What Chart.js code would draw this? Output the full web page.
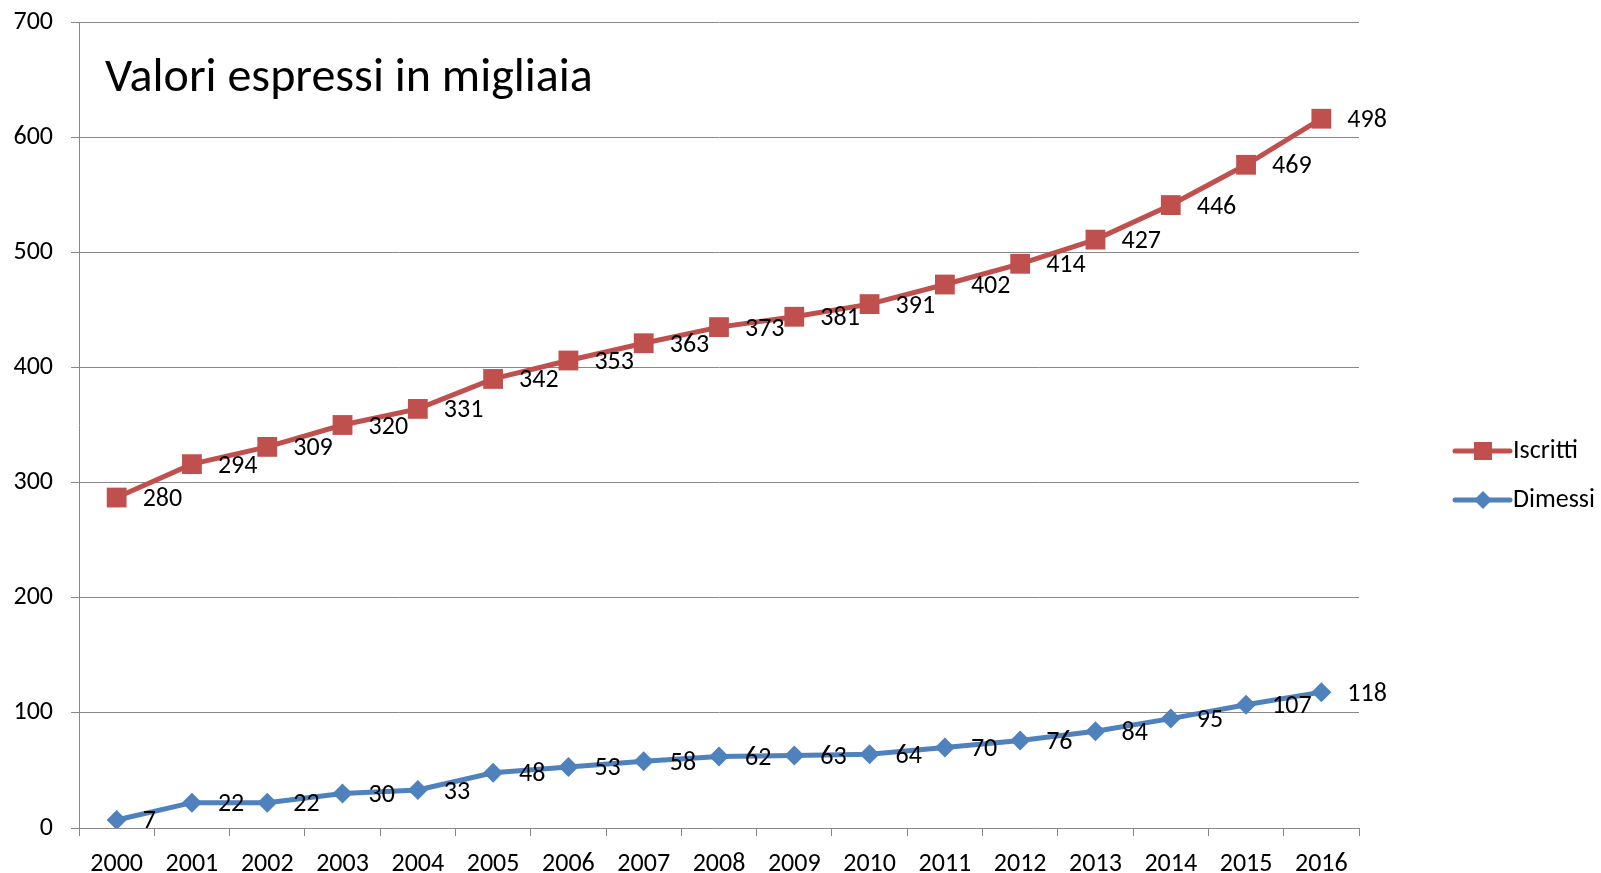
<!DOCTYPE html>
<html>
<head>
<meta charset="utf-8">
<script src="https://cdn.jsdelivr.net/npm/chart.js@4"></script>
<style>
    body { margin: 0; background: #fff; }
    #wrap { width: 1601px; height: 873px; }
</style>
</head>
<body>
<div id="wrap"><canvas id="chart" width="1601" height="873"></canvas></div>
<script>
let anni = ["2000", "2001", "2002", "2003", "2004", "2005", "2006", "2007", "2008",
    "2009", "2010", "2011", "2012", "2013", "2014", "2015", "2016"];
let iscritti = [280, 294, 309, 320, 331, 342, 353, 363, 373, 381, 391, 402, 414, 427, 446, 469, 498];
let dimessi = [7, 22, 22, 30, 33, 48, 53, 58, 62, 63, 64, 70, 76, 84, 95, 107, 118];
let yTicks = [0, 100, 200, 300, 400, 500, 600, 700];

let font = "Carlito, Lato, sans-serif";
let rosso = "#C0504D";
let blu = "#4F81BD";
let grigio = "#888888";

// etichette dei valori a destra dei punti
let etichette = {
    id: "etichette",
    afterDatasetsDraw(chart) {
        let ctx = chart.ctx;
        ctx.save();
        ctx.font = "26px " + font;
        ctx.fillStyle = "#000";
        ctx.textAlign = "left";
        ctx.textBaseline = "middle";
        chart.data.datasets.forEach(function(ds, i) {
            let meta = chart.getDatasetMeta(i);
            meta.data.forEach(function(pt, j) {
                ctx.fillText(ds.data[j], pt.x + 26, pt.y + 2);
            });
        });
        ctx.restore();
    }
};

// titolo dentro il grafico
let titolo = {
    id: "titolo",
    afterDraw(chart) {
        let ctx = chart.ctx;
        let a = chart.chartArea;
        ctx.save();
        ctx.font = "48px " + font;
        ctx.fillStyle = "#000";
        ctx.textBaseline = "alphabetic";
        ctx.fillText("Valori espressi in migliaia", a.left + 26, a.top + 69);
        ctx.restore();
    }
};

function marker(ctx, stile, x, y, colore) {
    ctx.fillStyle = colore;
    ctx.beginPath();
    if (stile === "rect") {
        ctx.rect(x - 9, y - 9, 18, 18);
    } else {
        ctx.moveTo(x, y - 9);
        ctx.lineTo(x + 9, y);
        ctx.lineTo(x, y + 9);
        ctx.lineTo(x - 9, y);
        ctx.closePath();
    }
    ctx.fill();
}

// legenda a destra
let legenda = {
    id: "legenda",
    afterDraw(chart) {
        let ctx = chart.ctx;
        let a = chart.chartArea;
        let voci = [chart.data.datasets[1], chart.data.datasets[0]];
        ctx.save();
        ctx.font = "26px " + font;
        ctx.textBaseline = "middle";
        voci.forEach(function(ds, i) {
            let x0 = a.right + 96;
            let y = a.top + 429 + i * 49;
            ctx.strokeStyle = ds.borderColor;
            ctx.lineWidth = 5;
            ctx.lineCap = "round";
            ctx.beginPath();
            ctx.moveTo(x0, y);
            ctx.lineTo(x0 + 55, y);
            ctx.stroke();
            marker(ctx, ds.pointStyle, x0 + 28, y, ds.backgroundColor);
            ctx.fillStyle = "#000";
            ctx.fillText(ds.label, x0 + 58, y);
        });
        ctx.restore();
    }
};

let ctx = document.getElementById("chart").getContext("2d");
let chart = new Chart(ctx, {
    type: "line",
    data: {
        labels: anni,
        datasets: [
            {
                label: "Dimessi",
                data: dimessi,
                borderColor: blu,
                backgroundColor: blu,
                borderWidth: 5,
                pointStyle: "rectRot",
                pointRadius: 10,
                pointBorderWidth: 0,
                fill: false,
                tension: 0
            },
            {
                label: "Iscritti",
                data: iscritti,
                borderColor: rosso,
                backgroundColor: rosso,
                borderWidth: 5,
                pointStyle: "rect",
                pointRadius: 14,
                pointBorderWidth: 0,
                fill: false,
                tension: 0
            }
        ]
    },
    options: {
        responsive: false,
        animation: false,
        layout: { padding: { top: 22, right: 242, left: 0, bottom: 0 } },
        plugins: {
            legend: { display: false },
            tooltip: { enabled: false }
        },
        scales: {
            x: {
                offset: true,
                grid: {
                    offset: true,
                    drawOnChartArea: false,
                    drawTicks: true,
                    tickLength: 8,
                    color: grigio
                },
                border: { color: grigio, width: 1 },
                ticks: {
                    color: "#000",
                    font: { size: 26, family: font },
                    padding: 13,
                    maxRotation: 0,
                    autoSkip: false
                },
                afterFit(scale) {
                    scale.height = 45;
                    scale.paddingLeft = 0;
                    scale.paddingRight = 0;
                }
            },
            y: {
                stacked: true,
                min: 0,
                max: 700,
                afterBuildTicks(scale) {
                    scale.ticks = yTicks.map(function(v) { return { value: v }; });
                },
                grid: {
                    color: grigio,
                    tickLength: 8
                },
                border: { color: grigio, width: 1 },
                ticks: {
                    color: "#000",
                    font: { size: 26, family: font },
                    padding: 18
                },
                afterFit(scale) {
                    scale.width = 79;
                    scale.paddingTop = 0;
                    scale.paddingBottom = 0;
                }
            }
        }
    },
    plugins: [etichette, titolo, legenda]
});
</script>
</body>
</html>
